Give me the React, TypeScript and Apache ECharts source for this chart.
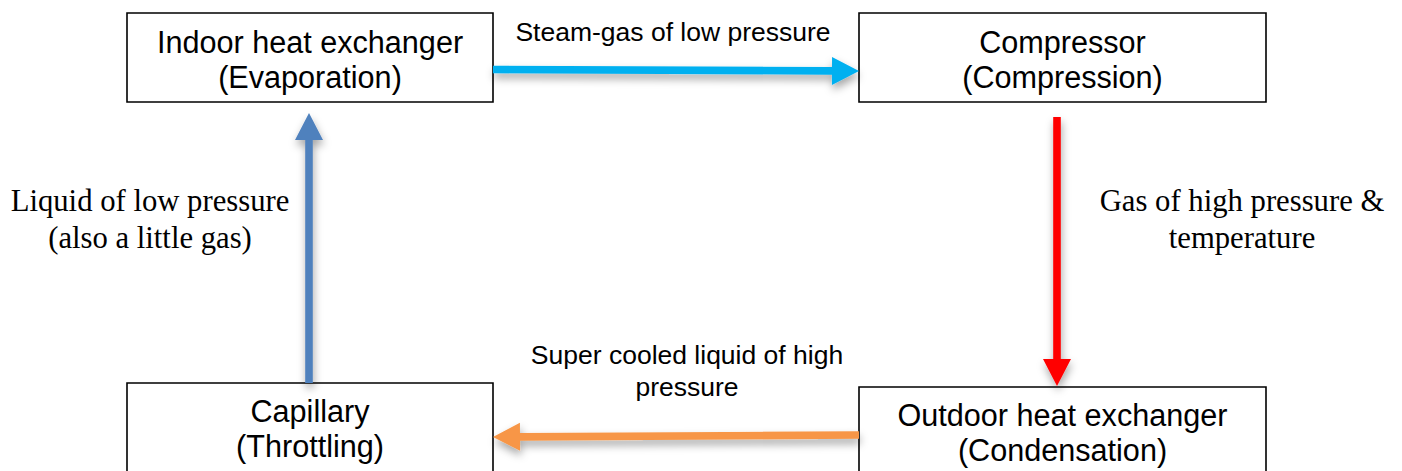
import React, { useEffect, useRef } from "react";
import * as echarts from "echarts";

// Diagram content
const boxLabels = [
  "Indoor heat exchanger\n(Evaporation)",
  "Compressor\n(Compression)",
  "Outdoor heat exchanger\n(Condensation)",
  "Capillary\n(Throttling)",
];
const flowLabels = [
  "Steam-gas of low pressure",
  "Gas of high pressure &\ntemperature",
  "Super cooled liquid of high\npressure",
  "Liquid of low pressure\n(also a little gas)",
];

// Layout (positions / styles)
const boxRects = [
  { x: 127, y: 13, w: 366, h: 89, cx: 310, cy: 59.5 },
  { x: 859, y: 13, w: 407, h: 89, cx: 1062.5, cy: 59.5 },
  { x: 859, y: 387, w: 407, h: 92, cx: 1062.5, cy: 432 },
  { x: 127, y: 383, w: 366, h: 92, cx: 310, cy: 428.5 },
];
const flowArrows = [
  { x1: 493, y1: 69.5, x2: 859, y2: 71, color: "#00B0F0" },
  { x1: 1057, y1: 117, x2: 1057, y2: 386, color: "#FF0000" },
  { x1: 859, y1: 435, x2: 493, y2: 437, color: "#F79646" },
  { x1: 309, y1: 383, x2: 309, y2: 113, color: "#4F81BD" },
];
const flowLabelPos = [
  { x: 673, y: 32, serif: false, lh: 32 },
  { x: 1242, y: 219, serif: true, lh: 37 },
  { x: 687, y: 371, serif: false, lh: 32 },
  { x: 150, y: 219.5, serif: true, lh: 37 },
];

function arrowPoints(x1: number, y1: number, x2: number, y2: number) {
  const dx = x2 - x1, dy = y2 - y1;
  const L = Math.sqrt(dx * dx + dy * dy);
  const ux = dx / L, uy = dy / L;
  const px = -uy, py = ux;
  const sw = 3.8, hl = 27, hw = 14;
  const bx = x2 - ux * hl, by = y2 - uy * hl;
  return [
    [x1 + px * sw, y1 + py * sw],
    [bx + px * sw, by + py * sw],
    [bx + px * hw, by + py * hw],
    [x2, y2],
    [bx - px * hw, by - py * hw],
    [bx - px * sw, by - py * sw],
    [x1 - px * sw, y1 - py * sw],
  ];
}

export default function App() {
  const ref = useRef<HTMLDivElement>(null);
  useEffect(() => {
    if (!ref.current) return;
    const chart = echarts.init(ref.current, null, { renderer: "svg" });
    const elements: any[] = [];
    boxRects.forEach((b, i) => {
      elements.push({
        type: "rect",
        shape: { x: b.x, y: b.y, width: b.w, height: b.h },
        style: { fill: "#fff", stroke: "#000", lineWidth: 1.6 },
        z: 1,
      });
      elements.push({
        type: "text",
        x: b.cx,
        y: b.cy,
        style: {
          text: boxLabels[i],
          fill: "#000",
          font: '30.6px "Liberation Sans", Arial, sans-serif',
          lineHeight: 35,
          align: "center",
          verticalAlign: "middle",
        },
        z: 3,
      });
    });
    flowArrows.forEach((a) => {
      elements.push({
        type: "polygon",
        shape: { points: arrowPoints(a.x1, a.y1, a.x2, a.y2) },
        style: {
          fill: a.color,
          shadowBlur: 8,
          shadowOffsetY: 5,
          shadowOffsetX: 1,
          shadowColor: "rgba(0,0,0,0.35)",
        },
        z: 2,
      });
    });
    flowLabelPos.forEach((p, i) => {
      elements.push({
        type: "text",
        x: p.x,
        y: p.y,
        style: {
          text: flowLabels[i],
          fill: "#000",
          font: p.serif
            ? '30.7px "Liberation Serif", "Times New Roman", serif'
            : '26.5px "Liberation Sans", Arial, sans-serif',
          lineHeight: p.lh,
          align: "center",
          verticalAlign: "middle",
        },
        z: 3,
      });
    });
    chart.setOption({
      animation: false,
      backgroundColor: "#fff",
      graphic: { elements },
    });
    return () => chart.dispose();
  }, []);
  return (
    <div
      ref={ref}
      style={{ position: "absolute", left: 0, top: 0, width: 1402, height: 471 }}
    />
  );
}
